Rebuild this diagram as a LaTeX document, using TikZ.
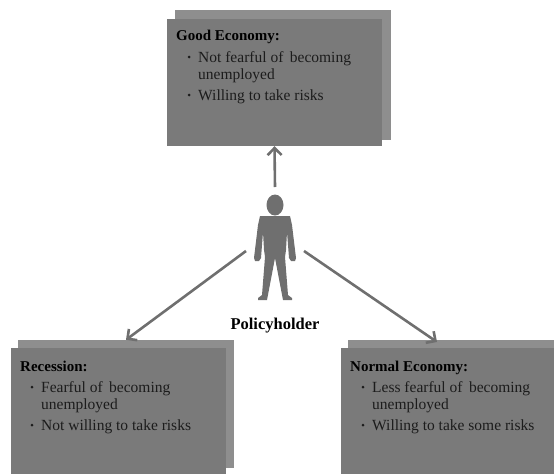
\documentclass[tikz,border=0pt]{standalone}
\usepackage{fontspec}
\setmainfont{Liberation Serif}
\usetikzlibrary{arrows.meta}
\definecolor{boxfront}{HTML}{7A7A7A}
\definecolor{boxback}{HTML}{8E8E8E}
\definecolor{figgray}{HTML}{6F6F6F}
\definecolor{inktext}{HTML}{1C1C1C}
\tikzset{
    frontbox/.style={fill=boxfront,draw=none,inner sep=0pt,minimum width=215pt},
    backbox/.style={fill=boxback,draw=none,inner sep=0pt},
    titletext/.style={anchor=base west,inner sep=0pt,text=black,font=\fontsize{15}{17}\selectfont\bfseries},
    itemtext/.style={anchor=base west,inner sep=0pt,text=inktext,font=\fontsize{15.5}{17}\selectfont},
    arrowline/.style={draw=figgray,line width=2.6pt,-{Straight Barb[length=7pt,width=14pt]}}
}
\begin{document}
\begin{tikzpicture}[x=1pt,y=-1pt]
        \useasboundingbox (0,0) rectangle (554,474);
        % good economy
        \node[backbox,minimum width=216pt,minimum height=130pt] (goodback) at (283,75){};
        \node[frontbox,minimum height=127pt] (goodfront) at (274.5,82.5){};
        \node[titletext] (goodtitle) at (176,40){Good Economy:};
        \node[itemtext] (goodb) at (198,62){Not fearful of\, becoming};
        \node[itemtext] (goodc) at (198,79){unemployed};
        \node[itemtext] (goodd) at (198,100){Willing to take risks};
        % recession
        \node[backbox,minimum width=216pt,minimum height=128pt] (recessback) at (126,404){};
        \node[frontbox,minimum height=126pt] (recessfront) at (118.5,411){};
        \node[titletext] (recesstitle) at (20,371){Recession:};
        \node[itemtext] (recessb) at (41,392){Fearful of\, becoming};
        \node[itemtext] (recessc) at (41,409){unemployed};
        \node[itemtext] (recessd) at (41,430){Not willing to take risks};
        % normal economy
        \node[backbox,minimum width=206pt,minimum height=134pt] (normalback) at (451,407){};
        \node[frontbox,minimum width=213pt,minimum height=126pt] (normalfront) at (447.5,411){};
        \node[titletext] (normaltitle) at (350,371){Normal Economy:};
        \node[itemtext] (normalb) at (372,392){Less fearful of\, becoming};
        \node[itemtext] (normalc) at (372,409){unemployed};
        \node[itemtext] (normald) at (372,430){Willing to take some risks};
        % bullets
        \foreach \x/\y in {189/57,189/95,32/387,32/425,363/387,363/425}
            \fill[inktext] (\x,\y) circle (1.5pt);
        % policyholder
        \fill[figgray] (275,205) ellipse (8.5 and 10.5);
        \fill[figgray] (260,216) -- (290,216) -- (292,225) -- (296,258) -- (295,261) -- (291,261)
            -- (289,258) -- (287,232) -- (286,250) -- (285,257) -- (288,295) -- (292,298) -- (292,300) -- (283,300)
            -- (275,258) -- (267,300) -- (258,300) -- (258,298) -- (262,295)
            -- (265,257) -- (264,250) -- (263,232) -- (261,258) -- (259,261) -- (255,261) -- (254,258) -- (258,225) -- cycle;
        \node[titletext,anchor=base,font=\fontsize{16.5}{18}\selectfont\bfseries] (policyholder) at (275,329){Policyholder};
        \coordinate (personup) at (275,187);
        \coordinate (personleft) at (246,251);
        \coordinate (personright) at (304,251);
        \coordinate (normalend) at (437,342);
        \draw[arrowline] (personup) -- (goodfront.south);
        \draw[arrowline] (personleft) -- (recessback.north);
        \draw[arrowline] (personright) -- (normalend);
    \end{tikzpicture}
\end{document}
